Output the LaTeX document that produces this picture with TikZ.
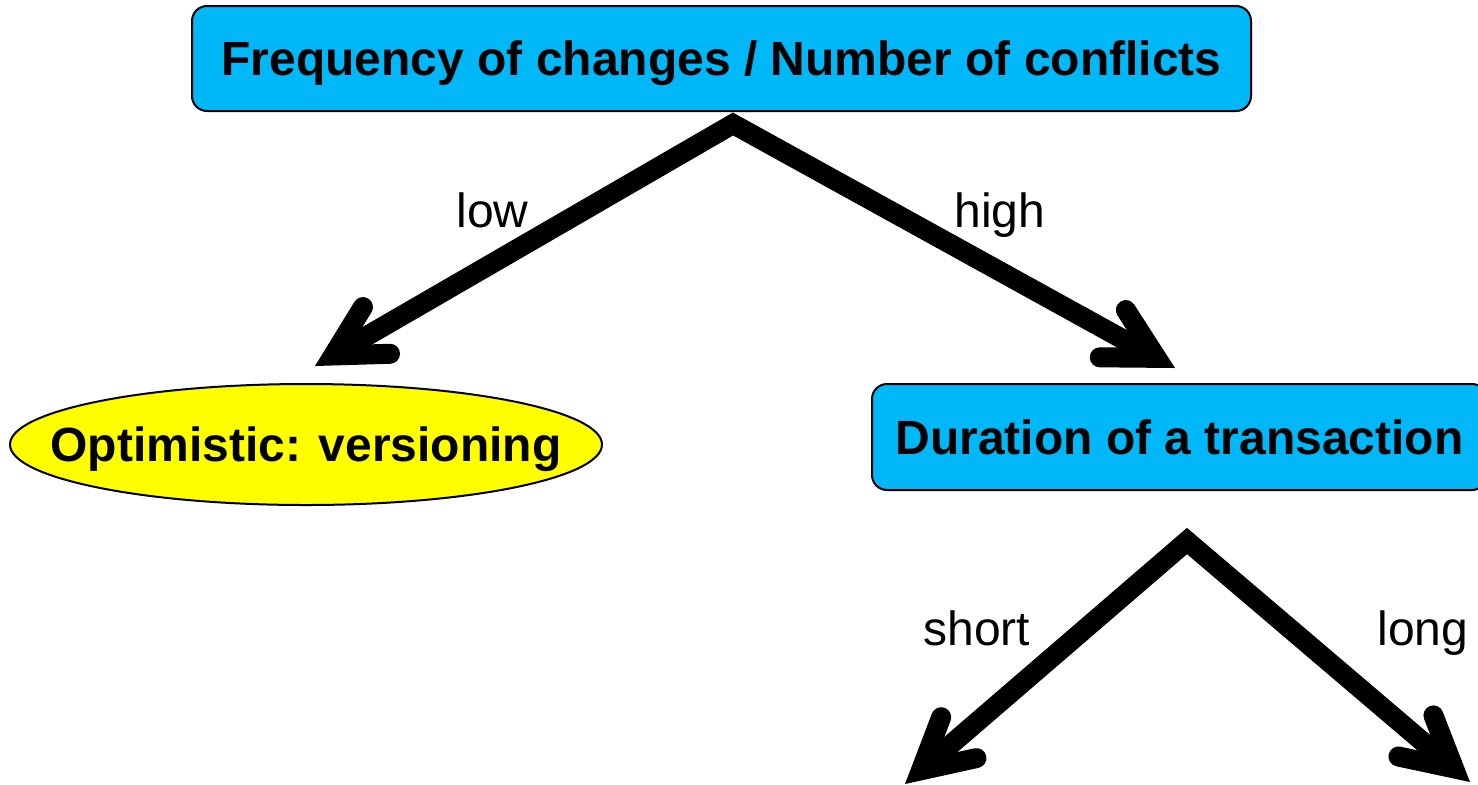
\documentclass[tikz,border=0pt]{standalone}
\usepackage{fontspec}
\setmainfont{Liberation Sans}
\usetikzlibrary{arrows.meta,shapes.geometric}
\definecolor{boxblue}{RGB}{0,184,248}
\definecolor{leafyellow}{RGB}{255,255,0}
\tikzset{barbtip/.tip={Straight Barb[length=25pt,width=27pt,line cap=round,line join=miter]}}
\begin{document}
\begin{tikzpicture}[x=0.5pt,y=-0.5pt,
  every node/.style={font=\fontsize{24}{28}\selectfont},
  question/.style={draw=black,line width=1pt,fill=boxblue,rounded corners=7.5pt,
    inner sep=0pt,text height=17pt,text depth=0pt,font=\fontsize{24}{28}\selectfont\bfseries},
  answer/.style={ellipse,draw=black,line width=1pt,fill=leafyellow,inner sep=0pt},
  label text/.style={inner sep=0pt,text height=17pt,text depth=0pt,
    font=\fontsize{24}{28}\selectfont\bfseries},
  branch/.style={line width=10pt,line join=miter,{barbtip}-{barbtip}},
  choice/.style={anchor=base west,inner sep=0pt}]
\useasboundingbox (0,0) rectangle (1478,784);
\clip (0,0) rectangle (1478,784);

% decision boxes and the leaf
\node[question,minimum width=529.5pt,minimum height=52.5pt] (freq) at (721.5,58.5)
  {Frequency of changes / Number of conflicts};
\node[answer,minimum width=296pt,minimum height=60.5pt] (optim) at (306,444.5) {};
\node[label text] (optimText) at (optim.center) {Optimistic: versioning};
\node[question,minimum width=307.5pt,minimum height=53pt] (dur) at (1179.5,437)
  {Duration of a transaction};

% branch points and arrow tips
\coordinate (apexA) at (733,124);
\coordinate (tipLow) at (315,366);
\coordinate (tipHigh) at (1175,368);
\coordinate (apexB) at (1187,541);
\coordinate (tipShort) at (905,784);
\coordinate (tipLong) at (1470,782);

\draw[branch] (tipLow) -- (apexA) -- (tipHigh);
\draw[branch] (tipShort) -- (apexB) -- (tipLong);

% branch labels
\node[choice] (lblLow) at (456,227) {low};
\node[choice] (lblHigh) at (954,227) {high};
\node[choice] (lblShort) at (923,645) {short};
\node[choice] (lblLong) at (1377,645) {long};
\end{tikzpicture}
\end{document}
